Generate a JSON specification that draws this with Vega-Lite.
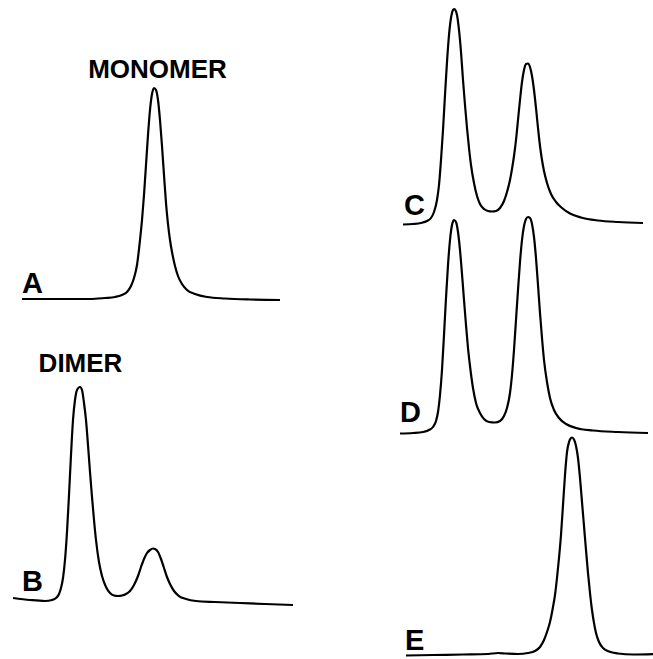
{
  "$schema": "https://vega.github.io/schema/vega-lite/v6.json",
  "padding": 0,
  "background": "white",
  "spacing": 95,
  "config": {
    "view": {"stroke": null},
    "font": "Liberation Sans"
  },
  "resolve": {"scale": {"x": "independent", "y": "independent"}},
  "datasets": {
    "traces": [
      {"trace": "A", "t": 2.2, "a": 0},
      {"trace": "A", "t": 6.0, "a": 0},
      {"trace": "A", "t": 9.0, "a": 0},
      {"trace": "A", "t": 10.5, "a": 0.01},
      {"trace": "A", "t": 11.5, "a": 0.02},
      {"trace": "A", "t": 12.2, "a": 0.04},
      {"trace": "A", "t": 12.7, "a": 0.07},
      {"trace": "A", "t": 13.1, "a": 0.13},
      {"trace": "A", "t": 13.4, "a": 0.21},
      {"trace": "A", "t": 13.7, "a": 0.34},
      {"trace": "A", "t": 14.0, "a": 0.59},
      {"trace": "A", "t": 14.2, "a": 0.79},
      {"trace": "A", "t": 14.4, "a": 1.04},
      {"trace": "A", "t": 14.6, "a": 1.34},
      {"trace": "A", "t": 14.8, "a": 1.64},
      {"trace": "A", "t": 15.0, "a": 1.89},
      {"trace": "A", "t": 15.2, "a": 2.05},
      {"trace": "A", "t": 15.4, "a": 2.11},
      {"trace": "A", "t": 15.6, "a": 2.09},
      {"trace": "A", "t": 15.8, "a": 1.99},
      {"trace": "A", "t": 16.0, "a": 1.79},
      {"trace": "A", "t": 16.2, "a": 1.53},
      {"trace": "A", "t": 16.4, "a": 1.24},
      {"trace": "A", "t": 16.6, "a": 0.96},
      {"trace": "A", "t": 16.8, "a": 0.75},
      {"trace": "A", "t": 17.0, "a": 0.59},
      {"trace": "A", "t": 17.2, "a": 0.47},
      {"trace": "A", "t": 17.5, "a": 0.33},
      {"trace": "A", "t": 17.8, "a": 0.23},
      {"trace": "A", "t": 18.2, "a": 0.15},
      {"trace": "A", "t": 18.7, "a": 0.09},
      {"trace": "A", "t": 19.5, "a": 0.05},
      {"trace": "A", "t": 20.7, "a": 0.02},
      {"trace": "A", "t": 22.5, "a": 0.005},
      {"trace": "A", "t": 25.0, "a": -0.005},
      {"trace": "A", "t": 28.0, "a": -0.01},

      {"trace": "B", "t": 1.3, "a": 0.03},
      {"trace": "B", "t": 3.0, "a": 0.01},
      {"trace": "B", "t": 4.5, "a": 0},
      {"trace": "B", "t": 5.2, "a": 0.01},
      {"trace": "B", "t": 5.6, "a": 0.03},
      {"trace": "B", "t": 5.9, "a": 0.07},
      {"trace": "B", "t": 6.1, "a": 0.13},
      {"trace": "B", "t": 6.3, "a": 0.23},
      {"trace": "B", "t": 6.5, "a": 0.41},
      {"trace": "B", "t": 6.7, "a": 0.69},
      {"trace": "B", "t": 6.9, "a": 1.06},
      {"trace": "B", "t": 7.1, "a": 1.46},
      {"trace": "B", "t": 7.3, "a": 1.81},
      {"trace": "B", "t": 7.5, "a": 2.01},
      {"trace": "B", "t": 7.7, "a": 2.11},
      {"trace": "B", "t": 8.0, "a": 2.14},
      {"trace": "B", "t": 8.2, "a": 2.11},
      {"trace": "B", "t": 8.4, "a": 1.98},
      {"trace": "B", "t": 8.6, "a": 1.81},
      {"trace": "B", "t": 8.8, "a": 1.56},
      {"trace": "B", "t": 9.0, "a": 1.29},
      {"trace": "B", "t": 9.2, "a": 1.04},
      {"trace": "B", "t": 9.4, "a": 0.81},
      {"trace": "B", "t": 9.6, "a": 0.61},
      {"trace": "B", "t": 9.9, "a": 0.39},
      {"trace": "B", "t": 10.2, "a": 0.25},
      {"trace": "B", "t": 10.6, "a": 0.14},
      {"trace": "B", "t": 11.0, "a": 0.08},
      {"trace": "B", "t": 11.4, "a": 0.055},
      {"trace": "B", "t": 11.8, "a": 0.05},
      {"trace": "B", "t": 12.2, "a": 0.055},
      {"trace": "B", "t": 12.6, "a": 0.07},
      {"trace": "B", "t": 13.0, "a": 0.10},
      {"trace": "B", "t": 13.4, "a": 0.16},
      {"trace": "B", "t": 13.8, "a": 0.25},
      {"trace": "B", "t": 14.1, "a": 0.34},
      {"trace": "B", "t": 14.4, "a": 0.42},
      {"trace": "B", "t": 14.7, "a": 0.48},
      {"trace": "B", "t": 15.0, "a": 0.51},
      {"trace": "B", "t": 15.3, "a": 0.525},
      {"trace": "B", "t": 15.5, "a": 0.52},
      {"trace": "B", "t": 15.8, "a": 0.49},
      {"trace": "B", "t": 16.1, "a": 0.42},
      {"trace": "B", "t": 16.4, "a": 0.33},
      {"trace": "B", "t": 16.7, "a": 0.24},
      {"trace": "B", "t": 17.0, "a": 0.17},
      {"trace": "B", "t": 17.4, "a": 0.10},
      {"trace": "B", "t": 17.9, "a": 0.05},
      {"trace": "B", "t": 18.6, "a": 0.02},
      {"trace": "B", "t": 19.6, "a": 0},
      {"trace": "B", "t": 21.5, "a": -0.01},
      {"trace": "B", "t": 24.0, "a": -0.02},
      {"trace": "B", "t": 26.5, "a": -0.03},
      {"trace": "B", "t": 29.3, "a": -0.04},

      {"trace": "C", "t": 0.5, "a": -0.005},
      {"trace": "C", "t": 1.5, "a": 0},
      {"trace": "C", "t": 2.3, "a": 0.01},
      {"trace": "C", "t": 2.9, "a": 0.03},
      {"trace": "C", "t": 3.3, "a": 0.06},
      {"trace": "C", "t": 3.6, "a": 0.12},
      {"trace": "C", "t": 3.9, "a": 0.24},
      {"trace": "C", "t": 4.1, "a": 0.39},
      {"trace": "C", "t": 4.3, "a": 0.64},
      {"trace": "C", "t": 4.5, "a": 0.94},
      {"trace": "C", "t": 4.7, "a": 1.29},
      {"trace": "C", "t": 4.9, "a": 1.62},
      {"trace": "C", "t": 5.1, "a": 1.89},
      {"trace": "C", "t": 5.3, "a": 2.06},
      {"trace": "C", "t": 5.5, "a": 2.14},
      {"trace": "C", "t": 5.6, "a": 2.15},
      {"trace": "C", "t": 5.7, "a": 2.145},
      {"trace": "C", "t": 5.9, "a": 2.09},
      {"trace": "C", "t": 6.1, "a": 1.94},
      {"trace": "C", "t": 6.3, "a": 1.72},
      {"trace": "C", "t": 6.5, "a": 1.44},
      {"trace": "C", "t": 6.7, "a": 1.19},
      {"trace": "C", "t": 6.9, "a": 0.96},
      {"trace": "C", "t": 7.1, "a": 0.76},
      {"trace": "C", "t": 7.3, "a": 0.59},
      {"trace": "C", "t": 7.6, "a": 0.41},
      {"trace": "C", "t": 7.9, "a": 0.28},
      {"trace": "C", "t": 8.2, "a": 0.20},
      {"trace": "C", "t": 8.6, "a": 0.15},
      {"trace": "C", "t": 9.0, "a": 0.13},
      {"trace": "C", "t": 9.4, "a": 0.125},
      {"trace": "C", "t": 9.8, "a": 0.13},
      {"trace": "C", "t": 10.2, "a": 0.16},
      {"trace": "C", "t": 10.6, "a": 0.23},
      {"trace": "C", "t": 10.9, "a": 0.32},
      {"trace": "C", "t": 11.2, "a": 0.44},
      {"trace": "C", "t": 11.4, "a": 0.55},
      {"trace": "C", "t": 11.6, "a": 0.68},
      {"trace": "C", "t": 11.8, "a": 0.84},
      {"trace": "C", "t": 12.0, "a": 1.04},
      {"trace": "C", "t": 12.2, "a": 1.24},
      {"trace": "C", "t": 12.4, "a": 1.42},
      {"trace": "C", "t": 12.6, "a": 1.54},
      {"trace": "C", "t": 12.8, "a": 1.60},
      {"trace": "C", "t": 13.0, "a": 1.605},
      {"trace": "C", "t": 13.2, "a": 1.57},
      {"trace": "C", "t": 13.4, "a": 1.48},
      {"trace": "C", "t": 13.6, "a": 1.34},
      {"trace": "C", "t": 13.8, "a": 1.16},
      {"trace": "C", "t": 14.0, "a": 0.96},
      {"trace": "C", "t": 14.2, "a": 0.78},
      {"trace": "C", "t": 14.4, "a": 0.64},
      {"trace": "C", "t": 14.6, "a": 0.53},
      {"trace": "C", "t": 14.9, "a": 0.41},
      {"trace": "C", "t": 15.3, "a": 0.30},
      {"trace": "C", "t": 15.8, "a": 0.22},
      {"trace": "C", "t": 16.4, "a": 0.16},
      {"trace": "C", "t": 17.2, "a": 0.105},
      {"trace": "C", "t": 18.3, "a": 0.065},
      {"trace": "C", "t": 20.0, "a": 0.035},
      {"trace": "C", "t": 22.0, "a": 0.02},
      {"trace": "C", "t": 24.5, "a": 0.01},

      {"trace": "D", "t": 0.2, "a": -0.005},
      {"trace": "D", "t": 1.5, "a": 0},
      {"trace": "D", "t": 2.5, "a": 0.01},
      {"trace": "D", "t": 3.1, "a": 0.03},
      {"trace": "D", "t": 3.5, "a": 0.06},
      {"trace": "D", "t": 3.8, "a": 0.12},
      {"trace": "D", "t": 4.0, "a": 0.21},
      {"trace": "D", "t": 4.2, "a": 0.38},
      {"trace": "D", "t": 4.4, "a": 0.63},
      {"trace": "D", "t": 4.6, "a": 0.98},
      {"trace": "D", "t": 4.8, "a": 1.35},
      {"trace": "D", "t": 5.0, "a": 1.68},
      {"trace": "D", "t": 5.2, "a": 1.93},
      {"trace": "D", "t": 5.4, "a": 2.08},
      {"trace": "D", "t": 5.6, "a": 2.13},
      {"trace": "D", "t": 5.8, "a": 2.11},
      {"trace": "D", "t": 6.0, "a": 2.01},
      {"trace": "D", "t": 6.2, "a": 1.83},
      {"trace": "D", "t": 6.4, "a": 1.59},
      {"trace": "D", "t": 6.6, "a": 1.33},
      {"trace": "D", "t": 6.8, "a": 1.08},
      {"trace": "D", "t": 7.0, "a": 0.85},
      {"trace": "D", "t": 7.2, "a": 0.67},
      {"trace": "D", "t": 7.5, "a": 0.45},
      {"trace": "D", "t": 7.8, "a": 0.30},
      {"trace": "D", "t": 8.2, "a": 0.20},
      {"trace": "D", "t": 8.6, "a": 0.14},
      {"trace": "D", "t": 9.1, "a": 0.11},
      {"trace": "D", "t": 9.7, "a": 0.105},
      {"trace": "D", "t": 10.2, "a": 0.12},
      {"trace": "D", "t": 10.6, "a": 0.17},
      {"trace": "D", "t": 10.9, "a": 0.25},
      {"trace": "D", "t": 11.2, "a": 0.40},
      {"trace": "D", "t": 11.4, "a": 0.58},
      {"trace": "D", "t": 11.6, "a": 0.83},
      {"trace": "D", "t": 11.8, "a": 1.13},
      {"trace": "D", "t": 12.0, "a": 1.43},
      {"trace": "D", "t": 12.2, "a": 1.71},
      {"trace": "D", "t": 12.4, "a": 1.93},
      {"trace": "D", "t": 12.6, "a": 2.07},
      {"trace": "D", "t": 12.8, "a": 2.14},
      {"trace": "D", "t": 13.0, "a": 2.16},
      {"trace": "D", "t": 13.2, "a": 2.15},
      {"trace": "D", "t": 13.4, "a": 2.09},
      {"trace": "D", "t": 13.6, "a": 1.96},
      {"trace": "D", "t": 13.8, "a": 1.75},
      {"trace": "D", "t": 14.0, "a": 1.48},
      {"trace": "D", "t": 14.2, "a": 1.20},
      {"trace": "D", "t": 14.4, "a": 0.95},
      {"trace": "D", "t": 14.6, "a": 0.73},
      {"trace": "D", "t": 14.9, "a": 0.51},
      {"trace": "D", "t": 15.2, "a": 0.35},
      {"trace": "D", "t": 15.6, "a": 0.23},
      {"trace": "D", "t": 16.1, "a": 0.15},
      {"trace": "D", "t": 16.8, "a": 0.09},
      {"trace": "D", "t": 17.8, "a": 0.05},
      {"trace": "D", "t": 19.5, "a": 0.025},
      {"trace": "D", "t": 22.0, "a": 0.01},
      {"trace": "D", "t": 25.0, "a": 0},

      {"trace": "E", "t": 0.8, "a": -0.005},
      {"trace": "E", "t": 3.5, "a": 0},
      {"trace": "E", "t": 6.5, "a": 0.005},
      {"trace": "E", "t": 9.0, "a": 0.01},
      {"trace": "E", "t": 10.0, "a": 0.02},
      {"trace": "E", "t": 10.8, "a": 0.015},
      {"trace": "E", "t": 12.0, "a": 0.01},
      {"trace": "E", "t": 13.0, "a": 0.02},
      {"trace": "E", "t": 13.7, "a": 0.04},
      {"trace": "E", "t": 14.2, "a": 0.08},
      {"trace": "E", "t": 14.6, "a": 0.15},
      {"trace": "E", "t": 14.9, "a": 0.23},
      {"trace": "E", "t": 15.2, "a": 0.33},
      {"trace": "E", "t": 15.5, "a": 0.48},
      {"trace": "E", "t": 15.7, "a": 0.60},
      {"trace": "E", "t": 15.9, "a": 0.77},
      {"trace": "E", "t": 16.1, "a": 0.97},
      {"trace": "E", "t": 16.3, "a": 1.20},
      {"trace": "E", "t": 16.5, "a": 1.50},
      {"trace": "E", "t": 16.7, "a": 1.80},
      {"trace": "E", "t": 16.9, "a": 2.03},
      {"trace": "E", "t": 17.1, "a": 2.13},
      {"trace": "E", "t": 17.3, "a": 2.17},
      {"trace": "E", "t": 17.4, "a": 2.175},
      {"trace": "E", "t": 17.6, "a": 2.155},
      {"trace": "E", "t": 17.8, "a": 2.09},
      {"trace": "E", "t": 18.0, "a": 1.97},
      {"trace": "E", "t": 18.2, "a": 1.77},
      {"trace": "E", "t": 18.4, "a": 1.53},
      {"trace": "E", "t": 18.6, "a": 1.29},
      {"trace": "E", "t": 18.8, "a": 1.05},
      {"trace": "E", "t": 19.0, "a": 0.82},
      {"trace": "E", "t": 19.2, "a": 0.62},
      {"trace": "E", "t": 19.4, "a": 0.45},
      {"trace": "E", "t": 19.6, "a": 0.32},
      {"trace": "E", "t": 19.8, "a": 0.22},
      {"trace": "E", "t": 20.1, "a": 0.13},
      {"trace": "E", "t": 20.5, "a": 0.07},
      {"trace": "E", "t": 21.1, "a": 0.035},
      {"trace": "E", "t": 22.0, "a": 0.015},
      {"trace": "E", "t": 23.5, "a": 0.005},
      {"trace": "E", "t": 25.7, "a": 0.01}
    ],
    "letters": [
      {"trace": "A", "t": 2.2, "a": 0.06, "text": "A"},
      {"trace": "B", "t": 2.2, "a": 0.10, "text": "B"},
      {"trace": "C", "t": 0.6, "a": 0.09, "text": "C"},
      {"trace": "D", "t": 0.2, "a": 0.11, "text": "D"},
      {"trace": "E", "t": 0.7, "a": 0.05, "text": "E"}
    ],
    "names": [
      {"trace": "A", "t": 15.75, "a": 2.21, "text": "MONOMER"},
      {"trace": "B", "t": 8.05, "a": 2.29, "text": "DIMER"}
    ]
  },
  "hconcat": [
    {
      "bounds": "flush",
      "spacing": 0,
      "resolve": {"scale": {"x": "independent", "y": "independent"}},
      "vconcat": [
        {
          "width": 300,
          "height": 330,
          "layer": [
            {
              "data": {"name": "traces"},
              "transform": [{"filter": "datum.trace === 'A'"}],
              "mark": {"type": "line", "interpolate": "monotone", "color": "black", "strokeWidth": 2.2},
              "encoding": {
                "x": {"field": "t", "type": "quantitative", "scale": {"domain": [0, 30], "nice": false, "zero": false}, "axis": null},
                "y": {"field": "a", "type": "quantitative", "scale": {"domain": [-0.31, 2.99], "nice": false, "zero": false}, "axis": null},
                "order": {"field": "t"}
              }
            },
            {
              "data": {"name": "letters"},
              "transform": [{"filter": "datum.trace === 'A'"}],
              "mark": {"type": "text", "fontSize": 29, "fontWeight": "bold", "align": "left", "baseline": "alphabetic", "color": "black"},
              "encoding": {
                "x": {"field": "t", "type": "quantitative"},
                "y": {"field": "a", "type": "quantitative"},
                "text": {"field": "text"}
              }
            },
            {
              "data": {"name": "names"},
              "transform": [{"filter": "datum.trace === 'A'"}],
              "mark": {"type": "text", "fontSize": 26, "fontWeight": "bold", "align": "center", "baseline": "alphabetic", "color": "black"},
              "encoding": {
                "x": {"field": "t", "type": "quantitative"},
                "y": {"field": "a", "type": "quantitative"},
                "text": {"field": "text"}
              }
            }
          ]
        },
        {
          "width": 300,
          "height": 329,
          "layer": [
            {
              "data": {"name": "traces"},
              "transform": [{"filter": "datum.trace === 'B'"}],
              "mark": {"type": "line", "interpolate": "monotone", "color": "black", "strokeWidth": 2.2},
              "encoding": {
                "x": {"field": "t", "type": "quantitative", "scale": {"domain": [0, 30], "nice": false, "zero": false}, "axis": null},
                "y": {"field": "a", "type": "quantitative", "scale": {"domain": [-0.58, 2.71], "nice": false, "zero": false}, "axis": null},
                "order": {"field": "t"}
              }
            },
            {
              "data": {"name": "letters"},
              "transform": [{"filter": "datum.trace === 'B'"}],
              "mark": {"type": "text", "fontSize": 29, "fontWeight": "bold", "align": "left", "baseline": "alphabetic", "color": "black"},
              "encoding": {
                "x": {"field": "t", "type": "quantitative"},
                "y": {"field": "a", "type": "quantitative"},
                "text": {"field": "text"}
              }
            },
            {
              "data": {"name": "names"},
              "transform": [{"filter": "datum.trace === 'B'"}],
              "mark": {"type": "text", "fontSize": 26, "fontWeight": "bold", "align": "center", "baseline": "alphabetic", "color": "black"},
              "encoding": {
                "x": {"field": "t", "type": "quantitative"},
                "y": {"field": "a", "type": "quantitative"},
                "text": {"field": "text"}
              }
            }
          ]
        }
      ]
    },
    {
      "bounds": "flush",
      "spacing": 0,
      "resolve": {"scale": {"x": "independent", "y": "independent"}},
      "vconcat": [
        {
          "width": 258,
          "height": 230,
          "layer": [
            {
              "data": {"name": "traces"},
              "transform": [{"filter": "datum.trace === 'C'"}],
              "mark": {"type": "line", "interpolate": "monotone", "color": "black", "strokeWidth": 2.2},
              "encoding": {
                "x": {"field": "t", "type": "quantitative", "scale": {"domain": [0, 25.8], "nice": false, "zero": false}, "axis": null},
                "y": {"field": "a", "type": "quantitative", "scale": {"domain": [-0.06, 2.24], "nice": false, "zero": false}, "axis": null},
                "order": {"field": "t"}
              }
            },
            {
              "data": {"name": "letters"},
              "transform": [{"filter": "datum.trace === 'C'"}],
              "mark": {"type": "text", "fontSize": 29, "fontWeight": "bold", "align": "left", "baseline": "alphabetic", "color": "black"},
              "encoding": {
                "x": {"field": "t", "type": "quantitative"},
                "y": {"field": "a", "type": "quantitative"},
                "text": {"field": "text"}
              }
            }
          ]
        },
        {
          "width": 258,
          "height": 210,
          "layer": [
            {
              "data": {"name": "traces"},
              "transform": [{"filter": "datum.trace === 'D'"}],
              "mark": {"type": "line", "interpolate": "monotone", "color": "black", "strokeWidth": 2.2},
              "encoding": {
                "x": {"field": "t", "type": "quantitative", "scale": {"domain": [0, 25.8], "nice": false, "zero": false}, "axis": null},
                "y": {"field": "a", "type": "quantitative", "scale": {"domain": [-0.07, 2.03], "nice": false, "zero": false}, "axis": null},
                "order": {"field": "t"}
              }
            },
            {
              "data": {"name": "letters"},
              "transform": [{"filter": "datum.trace === 'D'"}],
              "mark": {"type": "text", "fontSize": 29, "fontWeight": "bold", "align": "left", "baseline": "alphabetic", "color": "black"},
              "encoding": {
                "x": {"field": "t", "type": "quantitative"},
                "y": {"field": "a", "type": "quantitative"},
                "text": {"field": "text"}
              }
            }
          ]
        },
        {
          "width": 258,
          "height": 219,
          "layer": [
            {
              "data": {"name": "traces"},
              "transform": [{"filter": "datum.trace === 'E'"}],
              "mark": {"type": "line", "interpolate": "monotone", "color": "black", "strokeWidth": 2.2},
              "encoding": {
                "x": {"field": "t", "type": "quantitative", "scale": {"domain": [0, 25.8], "nice": false, "zero": false}, "axis": null},
                "y": {"field": "a", "type": "quantitative", "scale": {"domain": [-0.04, 2.15], "nice": false, "zero": false}, "axis": null},
                "order": {"field": "t"}
              }
            },
            {
              "data": {"name": "letters"},
              "transform": [{"filter": "datum.trace === 'E'"}],
              "mark": {"type": "text", "fontSize": 29, "fontWeight": "bold", "align": "left", "baseline": "alphabetic", "color": "black"},
              "encoding": {
                "x": {"field": "t", "type": "quantitative"},
                "y": {"field": "a", "type": "quantitative"},
                "text": {"field": "text"}
              }
            }
          ]
        }
      ]
    }
  ]
}
